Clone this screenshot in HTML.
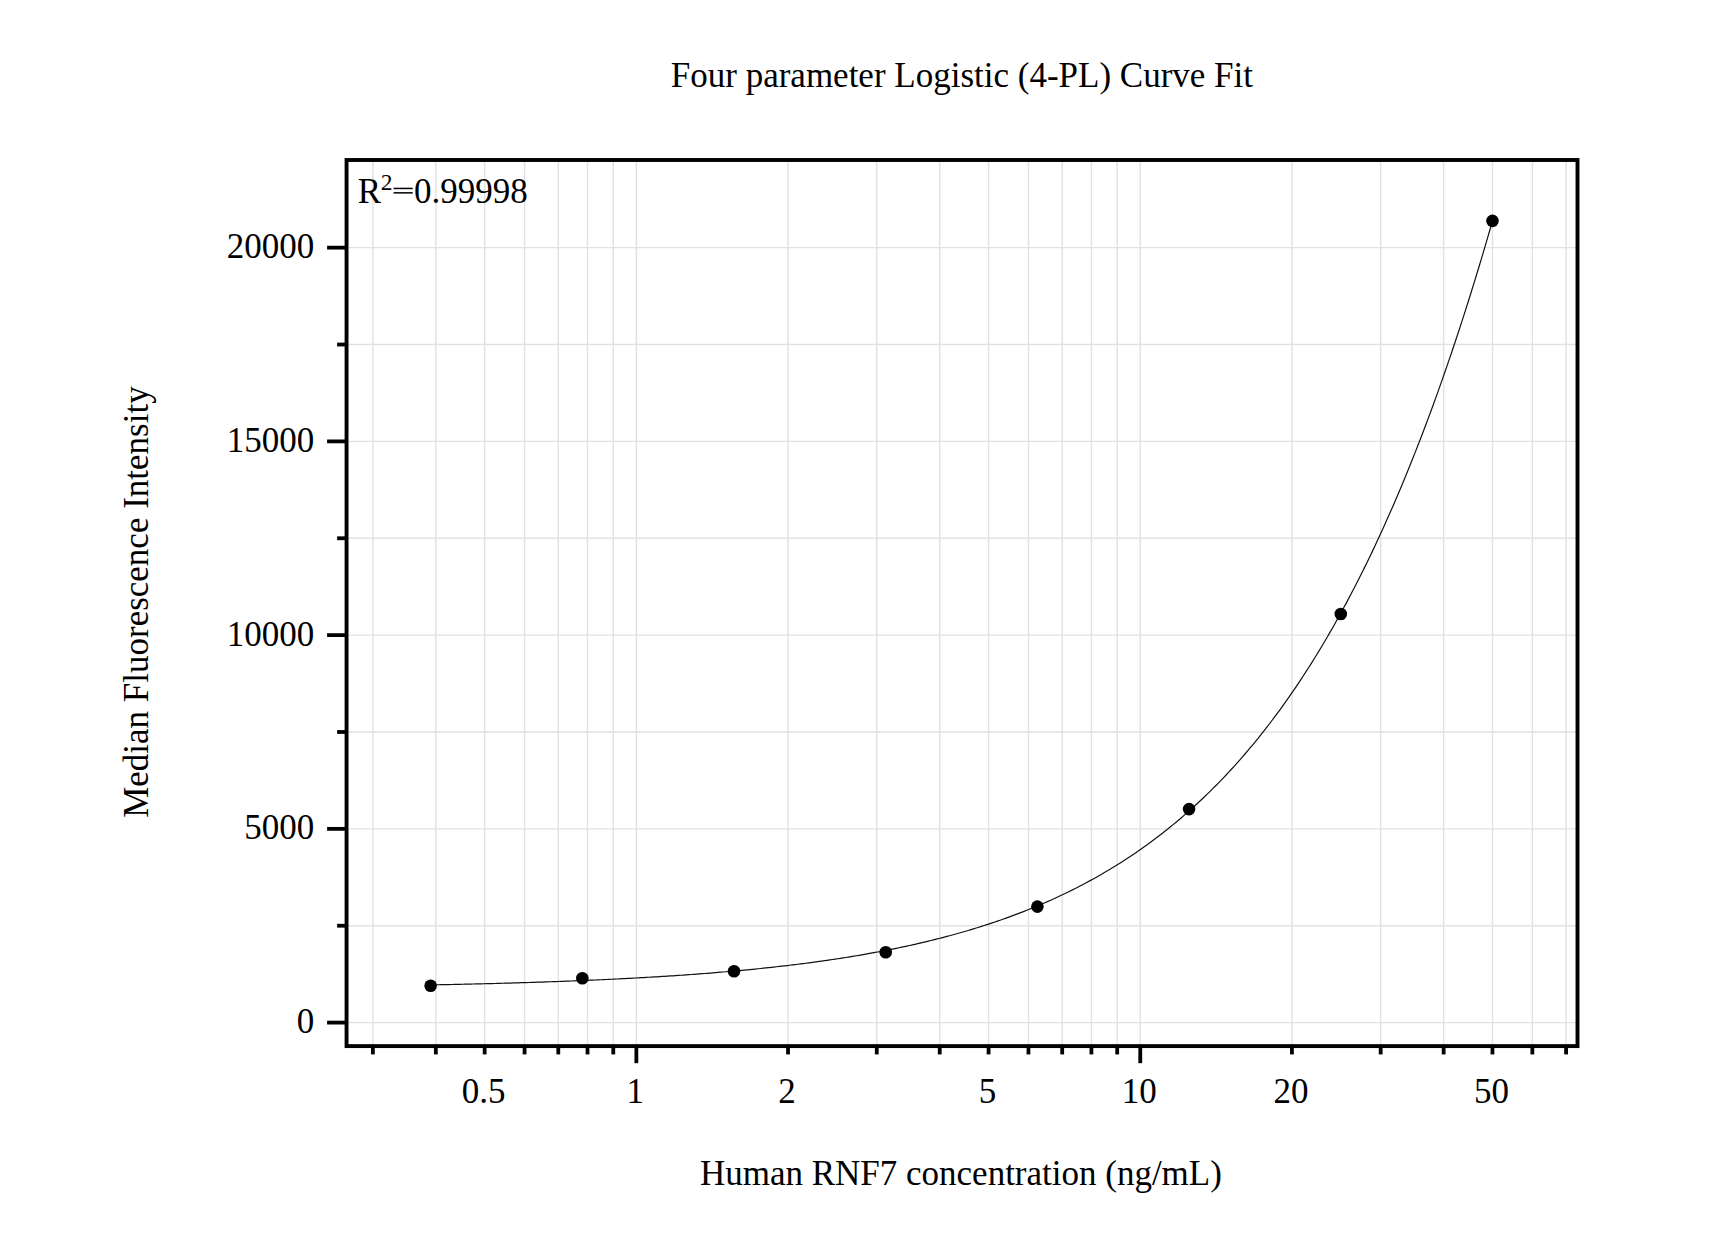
<!DOCTYPE html>
<html><head><meta charset="utf-8"><style>
html,body{margin:0;padding:0;background:#fff;}
body{width:1736px;height:1236px;overflow:hidden;}
svg{display:block;}
text{font-family:"Liberation Serif",serif;font-size:35px;fill:#000;}
</style></head><body>
<svg width="1736" height="1236" viewBox="0 0 1736 1236">
<rect width="1736" height="1236" fill="#fff"/>
<line x1="372.87" y1="160.00" x2="372.87" y2="1046.10" stroke="#e1e1e1" stroke-width="1.4"/>
<line x1="435.83" y1="160.00" x2="435.83" y2="1046.10" stroke="#e1e1e1" stroke-width="1.4"/>
<line x1="484.66" y1="160.00" x2="484.66" y2="1046.10" stroke="#e1e1e1" stroke-width="1.4"/>
<line x1="524.56" y1="160.00" x2="524.56" y2="1046.10" stroke="#e1e1e1" stroke-width="1.4"/>
<line x1="558.29" y1="160.00" x2="558.29" y2="1046.10" stroke="#e1e1e1" stroke-width="1.4"/>
<line x1="587.52" y1="160.00" x2="587.52" y2="1046.10" stroke="#e1e1e1" stroke-width="1.4"/>
<line x1="613.29" y1="160.00" x2="613.29" y2="1046.10" stroke="#e1e1e1" stroke-width="1.4"/>
<line x1="636.35" y1="160.00" x2="636.35" y2="1046.10" stroke="#e1e1e1" stroke-width="1.4"/>
<line x1="788.04" y1="160.00" x2="788.04" y2="1046.10" stroke="#e1e1e1" stroke-width="1.4"/>
<line x1="876.77" y1="160.00" x2="876.77" y2="1046.10" stroke="#e1e1e1" stroke-width="1.4"/>
<line x1="939.73" y1="160.00" x2="939.73" y2="1046.10" stroke="#e1e1e1" stroke-width="1.4"/>
<line x1="988.56" y1="160.00" x2="988.56" y2="1046.10" stroke="#e1e1e1" stroke-width="1.4"/>
<line x1="1028.46" y1="160.00" x2="1028.46" y2="1046.10" stroke="#e1e1e1" stroke-width="1.4"/>
<line x1="1062.19" y1="160.00" x2="1062.19" y2="1046.10" stroke="#e1e1e1" stroke-width="1.4"/>
<line x1="1091.42" y1="160.00" x2="1091.42" y2="1046.10" stroke="#e1e1e1" stroke-width="1.4"/>
<line x1="1117.19" y1="160.00" x2="1117.19" y2="1046.10" stroke="#e1e1e1" stroke-width="1.4"/>
<line x1="1140.25" y1="160.00" x2="1140.25" y2="1046.10" stroke="#e1e1e1" stroke-width="1.4"/>
<line x1="1291.94" y1="160.00" x2="1291.94" y2="1046.10" stroke="#e1e1e1" stroke-width="1.4"/>
<line x1="1380.67" y1="160.00" x2="1380.67" y2="1046.10" stroke="#e1e1e1" stroke-width="1.4"/>
<line x1="1443.63" y1="160.00" x2="1443.63" y2="1046.10" stroke="#e1e1e1" stroke-width="1.4"/>
<line x1="1492.46" y1="160.00" x2="1492.46" y2="1046.10" stroke="#e1e1e1" stroke-width="1.4"/>
<line x1="1532.36" y1="160.00" x2="1532.36" y2="1046.10" stroke="#e1e1e1" stroke-width="1.4"/>
<line x1="1566.09" y1="160.00" x2="1566.09" y2="1046.10" stroke="#e1e1e1" stroke-width="1.4"/>
<line x1="346.55" y1="1022.60" x2="1577.50" y2="1022.60" stroke="#e1e1e1" stroke-width="1.4"/>
<line x1="346.55" y1="925.73" x2="1577.50" y2="925.73" stroke="#e1e1e1" stroke-width="1.4"/>
<line x1="346.55" y1="828.86" x2="1577.50" y2="828.86" stroke="#e1e1e1" stroke-width="1.4"/>
<line x1="346.55" y1="731.99" x2="1577.50" y2="731.99" stroke="#e1e1e1" stroke-width="1.4"/>
<line x1="346.55" y1="635.12" x2="1577.50" y2="635.12" stroke="#e1e1e1" stroke-width="1.4"/>
<line x1="346.55" y1="538.26" x2="1577.50" y2="538.26" stroke="#e1e1e1" stroke-width="1.4"/>
<line x1="346.55" y1="441.39" x2="1577.50" y2="441.39" stroke="#e1e1e1" stroke-width="1.4"/>
<line x1="346.55" y1="344.52" x2="1577.50" y2="344.52" stroke="#e1e1e1" stroke-width="1.4"/>
<line x1="346.55" y1="247.65" x2="1577.50" y2="247.65" stroke="#e1e1e1" stroke-width="1.4"/>
<polyline points="430.64,984.91 433.30,984.86 435.96,984.81 438.62,984.76 441.28,984.71 443.94,984.65 446.61,984.60 449.27,984.54 451.93,984.49 454.59,984.43 457.25,984.37 459.91,984.31 462.57,984.25 465.23,984.19 467.89,984.13 470.56,984.07 473.22,984.01 475.88,983.95 478.54,983.88 481.20,983.82 483.86,983.75 486.52,983.68 489.18,983.61 491.85,983.55 494.51,983.48 497.17,983.41 499.83,983.33 502.49,983.26 505.15,983.19 507.81,983.11 510.47,983.04 513.14,982.96 515.80,982.88 518.46,982.80 521.12,982.72 523.78,982.64 526.44,982.56 529.10,982.48 531.76,982.39 534.43,982.31 537.09,982.22 539.75,982.13 542.41,982.04 545.07,981.95 547.73,981.86 550.39,981.77 553.05,981.67 555.71,981.58 558.38,981.48 561.04,981.38 563.70,981.28 566.36,981.18 569.02,981.08 571.68,980.98 574.34,980.87 577.00,980.77 579.67,980.66 582.33,980.55 584.99,980.44 587.65,980.32 590.31,980.21 592.97,980.10 595.63,979.98 598.29,979.86 600.96,979.74 603.62,979.62 606.28,979.49 608.94,979.37 611.60,979.24 614.26,979.11 616.92,978.98 619.58,978.85 622.25,978.71 624.91,978.58 627.57,978.44 630.23,978.30 632.89,978.16 635.55,978.01 638.21,977.87 640.87,977.72 643.53,977.57 646.20,977.42 648.86,977.27 651.52,977.11 654.18,976.95 656.84,976.79 659.50,976.63 662.16,976.46 664.82,976.30 667.49,976.13 670.15,975.96 672.81,975.78 675.47,975.61 678.13,975.43 680.79,975.25 683.45,975.06 686.11,974.88 688.78,974.69 691.44,974.50 694.10,974.30 696.76,974.10 699.42,973.91 702.08,973.70 704.74,973.50 707.40,973.29 710.07,973.08 712.73,972.87 715.39,972.65 718.05,972.43 720.71,972.21 723.37,971.98 726.03,971.76 728.69,971.52 731.35,971.29 734.02,971.05 736.68,970.81 739.34,970.57 742.00,970.32 744.66,970.07 747.32,969.81 749.98,969.55 752.64,969.29 755.31,969.03 757.97,968.76 760.63,968.48 763.29,968.21 765.95,967.93 768.61,967.64 771.27,967.36 773.93,967.07 776.60,966.77 779.26,966.47 781.92,966.17 784.58,965.86 787.24,965.55 789.90,965.23 792.56,964.91 795.22,964.58 797.88,964.25 800.55,963.92 803.21,963.58 805.87,963.24 808.53,962.89 811.19,962.54 813.85,962.18 816.51,961.82 819.17,961.45 821.84,961.08 824.50,960.70 827.16,960.32 829.82,959.93 832.48,959.53 835.14,959.14 837.80,958.73 840.46,958.32 843.13,957.91 845.79,957.49 848.45,957.06 851.11,956.63 853.77,956.19 856.43,955.75 859.09,955.30 861.75,954.84 864.42,954.38 867.08,953.91 869.74,953.43 872.40,952.95 875.06,952.46 877.72,951.97 880.38,951.47 883.04,950.96 885.70,950.44 888.37,949.92 891.03,949.39 893.69,948.85 896.35,948.31 899.01,947.76 901.67,947.20 904.33,946.63 906.99,946.06 909.66,945.47 912.32,944.88 914.98,944.29 917.64,943.68 920.30,943.07 922.96,942.44 925.62,941.81 928.28,941.17 930.95,940.52 933.61,939.87 936.27,939.20 938.93,938.53 941.59,937.84 944.25,937.15 946.91,936.44 949.57,935.73 952.24,935.01 954.90,934.28 957.56,933.54 960.22,932.78 962.88,932.02 965.54,931.25 968.20,930.47 970.86,929.67 973.52,928.87 976.19,928.05 978.85,927.23 981.51,926.39 984.17,925.54 986.83,924.68 989.49,923.81 992.15,922.93 994.81,922.03 997.48,921.13 1000.14,920.21 1002.80,919.27 1005.46,918.33 1008.12,917.37 1010.78,916.40 1013.44,915.42 1016.10,914.42 1018.77,913.41 1021.43,912.39 1024.09,911.35 1026.75,910.30 1029.41,909.23 1032.07,908.16 1034.73,907.06 1037.39,905.95 1040.06,904.83 1042.72,903.69 1045.38,902.54 1048.04,901.37 1050.70,900.18 1053.36,898.98 1056.02,897.76 1058.68,896.53 1061.34,895.28 1064.01,894.01 1066.67,892.73 1069.33,891.43 1071.99,890.11 1074.65,888.77 1077.31,887.42 1079.97,886.05 1082.63,884.66 1085.30,883.25 1087.96,881.82 1090.62,880.38 1093.28,878.91 1095.94,877.43 1098.60,875.92 1101.26,874.40 1103.92,872.85 1106.59,871.29 1109.25,869.70 1111.91,868.09 1114.57,866.46 1117.23,864.81 1119.89,863.14 1122.55,861.45 1125.21,859.73 1127.88,857.99 1130.54,856.23 1133.20,854.44 1135.86,852.63 1138.52,850.80 1141.18,848.94 1143.84,847.06 1146.50,845.15 1149.16,843.22 1151.83,841.26 1154.49,839.28 1157.15,837.27 1159.81,835.23 1162.47,833.17 1165.13,831.08 1167.79,828.97 1170.45,826.82 1173.12,824.65 1175.78,822.45 1178.44,820.22 1181.10,817.96 1183.76,815.67 1186.42,813.35 1189.08,811.00 1191.74,808.62 1194.41,806.21 1197.07,803.77 1199.73,801.30 1202.39,798.79 1205.05,796.25 1207.71,793.68 1210.37,791.08 1213.03,788.44 1215.70,785.77 1218.36,783.06 1221.02,780.32 1223.68,777.54 1226.34,774.73 1229.00,771.88 1231.66,769.00 1234.32,766.08 1236.98,763.11 1239.65,760.12 1242.31,757.08 1244.97,754.00 1247.63,750.89 1250.29,747.73 1252.95,744.54 1255.61,741.30 1258.27,738.03 1260.94,734.71 1263.60,731.35 1266.26,727.94 1268.92,724.50 1271.58,721.01 1274.24,717.47 1276.90,713.89 1279.56,710.27 1282.23,706.60 1284.89,702.88 1287.55,699.12 1290.21,695.31 1292.87,691.45 1295.53,687.54 1298.19,683.59 1300.85,679.58 1303.52,675.53 1306.18,671.42 1308.84,667.27 1311.50,663.06 1314.16,658.80 1316.82,654.48 1319.48,650.12 1322.14,645.69 1324.80,641.22 1327.47,636.69 1330.13,632.10 1332.79,627.46 1335.45,622.76 1338.11,618.00 1340.77,613.19 1343.43,608.31 1346.09,603.38 1348.76,598.38 1351.42,593.33 1354.08,588.21 1356.74,583.04 1359.40,577.80 1362.06,572.49 1364.72,567.12 1367.38,561.69 1370.05,556.19 1372.71,550.63 1375.37,545.00 1378.03,539.31 1380.69,533.54 1383.35,527.71 1386.01,521.81 1388.67,515.83 1391.33,509.79 1394.00,503.68 1396.66,497.49 1399.32,491.23 1401.98,484.90 1404.64,478.50 1407.30,472.02 1409.96,465.46 1412.62,458.83 1415.29,452.12 1417.95,445.33 1420.61,438.47 1423.27,431.53 1425.93,424.51 1428.59,417.40 1431.25,410.22 1433.91,402.95 1436.58,395.61 1439.24,388.17 1441.90,380.66 1444.56,373.06 1447.22,365.38 1449.88,357.61 1452.54,349.75 1455.20,341.80 1457.87,333.77 1460.53,325.65 1463.19,317.44 1465.85,309.14 1468.51,300.74 1471.17,292.26 1473.83,283.68 1476.49,275.01 1479.15,266.25 1481.82,257.39 1484.48,248.44 1487.14,239.39 1489.80,230.25 1492.46,221.00" fill="none" stroke="#111" stroke-width="1.2"/>
<circle cx="430.64" cy="985.70" r="6.3" fill="#000"/>
<circle cx="582.33" cy="978.20" r="6.3" fill="#000"/>
<circle cx="734.02" cy="971.30" r="6.3" fill="#000"/>
<circle cx="885.70" cy="952.30" r="6.3" fill="#000"/>
<circle cx="1037.39" cy="906.60" r="6.3" fill="#000"/>
<circle cx="1189.08" cy="809.10" r="6.3" fill="#000"/>
<circle cx="1340.77" cy="614.00" r="6.3" fill="#000"/>
<circle cx="1492.46" cy="220.90" r="6.3" fill="#000"/>
<line x1="372.87" y1="1046.10" x2="372.87" y2="1054.40" stroke="#000" stroke-width="3.8"/>
<line x1="435.83" y1="1046.10" x2="435.83" y2="1054.40" stroke="#000" stroke-width="3.8"/>
<line x1="484.66" y1="1046.10" x2="484.66" y2="1054.40" stroke="#000" stroke-width="3.8"/>
<line x1="524.56" y1="1046.10" x2="524.56" y2="1054.40" stroke="#000" stroke-width="3.8"/>
<line x1="558.29" y1="1046.10" x2="558.29" y2="1054.40" stroke="#000" stroke-width="3.8"/>
<line x1="587.52" y1="1046.10" x2="587.52" y2="1054.40" stroke="#000" stroke-width="3.8"/>
<line x1="613.29" y1="1046.10" x2="613.29" y2="1054.40" stroke="#000" stroke-width="3.8"/>
<line x1="636.35" y1="1046.10" x2="636.35" y2="1063.20" stroke="#000" stroke-width="3.8"/>
<line x1="788.04" y1="1046.10" x2="788.04" y2="1054.40" stroke="#000" stroke-width="3.8"/>
<line x1="876.77" y1="1046.10" x2="876.77" y2="1054.40" stroke="#000" stroke-width="3.8"/>
<line x1="939.73" y1="1046.10" x2="939.73" y2="1054.40" stroke="#000" stroke-width="3.8"/>
<line x1="988.56" y1="1046.10" x2="988.56" y2="1054.40" stroke="#000" stroke-width="3.8"/>
<line x1="1028.46" y1="1046.10" x2="1028.46" y2="1054.40" stroke="#000" stroke-width="3.8"/>
<line x1="1062.19" y1="1046.10" x2="1062.19" y2="1054.40" stroke="#000" stroke-width="3.8"/>
<line x1="1091.42" y1="1046.10" x2="1091.42" y2="1054.40" stroke="#000" stroke-width="3.8"/>
<line x1="1117.19" y1="1046.10" x2="1117.19" y2="1054.40" stroke="#000" stroke-width="3.8"/>
<line x1="1140.25" y1="1046.10" x2="1140.25" y2="1063.20" stroke="#000" stroke-width="3.8"/>
<line x1="1291.94" y1="1046.10" x2="1291.94" y2="1054.40" stroke="#000" stroke-width="3.8"/>
<line x1="1380.67" y1="1046.10" x2="1380.67" y2="1054.40" stroke="#000" stroke-width="3.8"/>
<line x1="1443.63" y1="1046.10" x2="1443.63" y2="1054.40" stroke="#000" stroke-width="3.8"/>
<line x1="1492.46" y1="1046.10" x2="1492.46" y2="1054.40" stroke="#000" stroke-width="3.8"/>
<line x1="1532.36" y1="1046.10" x2="1532.36" y2="1054.40" stroke="#000" stroke-width="3.8"/>
<line x1="1566.09" y1="1046.10" x2="1566.09" y2="1054.40" stroke="#000" stroke-width="3.8"/>
<line x1="346.55" y1="1022.60" x2="327.10" y2="1022.60" stroke="#000" stroke-width="3.8"/>
<line x1="346.55" y1="925.73" x2="337.10" y2="925.73" stroke="#000" stroke-width="3.8"/>
<line x1="346.55" y1="828.86" x2="327.10" y2="828.86" stroke="#000" stroke-width="3.8"/>
<line x1="346.55" y1="731.99" x2="337.10" y2="731.99" stroke="#000" stroke-width="3.8"/>
<line x1="346.55" y1="635.12" x2="327.10" y2="635.12" stroke="#000" stroke-width="3.8"/>
<line x1="346.55" y1="538.26" x2="337.10" y2="538.26" stroke="#000" stroke-width="3.8"/>
<line x1="346.55" y1="441.39" x2="327.10" y2="441.39" stroke="#000" stroke-width="3.8"/>
<line x1="346.55" y1="344.52" x2="337.10" y2="344.52" stroke="#000" stroke-width="3.8"/>
<line x1="346.55" y1="247.65" x2="327.10" y2="247.65" stroke="#000" stroke-width="3.8"/>
<rect x="346.55" y="160.00" width="1230.95" height="886.10" fill="none" stroke="#000" stroke-width="3.9"/>
<text x="483.66" y="1102.8" text-anchor="middle">0.5</text>
<text x="635.35" y="1102.8" text-anchor="middle">1</text>
<text x="787.04" y="1102.8" text-anchor="middle">2</text>
<text x="987.56" y="1102.8" text-anchor="middle">5</text>
<text x="1139.25" y="1102.8" text-anchor="middle">10</text>
<text x="1290.94" y="1102.8" text-anchor="middle">20</text>
<text x="1491.46" y="1102.8" text-anchor="middle">50</text>
<text x="314.3" y="1033.10" text-anchor="end">0</text>
<text x="314.3" y="839.36" text-anchor="end">5000</text>
<text x="314.3" y="645.62" text-anchor="end">10000</text>
<text x="314.3" y="451.89" text-anchor="end">15000</text>
<text x="314.3" y="258.15" text-anchor="end">20000</text>
<text x="961.9" y="87.2" text-anchor="middle">Four parameter Logistic (4-PL) Curve Fit</text>
<text x="960.9" y="1184.5" text-anchor="middle">Human RNF7 concentration (ng/mL)</text>
<text transform="translate(148.3,602.1) rotate(-90)" text-anchor="middle">Median Fluorescence Intensity</text>
<text x="357.8" y="203.3">R</text><text x="380.7" y="189.6" style="font-size:23.5px">2</text><rect x="393.6" y="187.7" width="19.1" height="1.5" fill="#000"/><rect x="393.6" y="192.1" width="19.1" height="1.5" fill="#000"/><text x="414.0" y="203.3">0.99998</text>
</svg>
</body></html>
